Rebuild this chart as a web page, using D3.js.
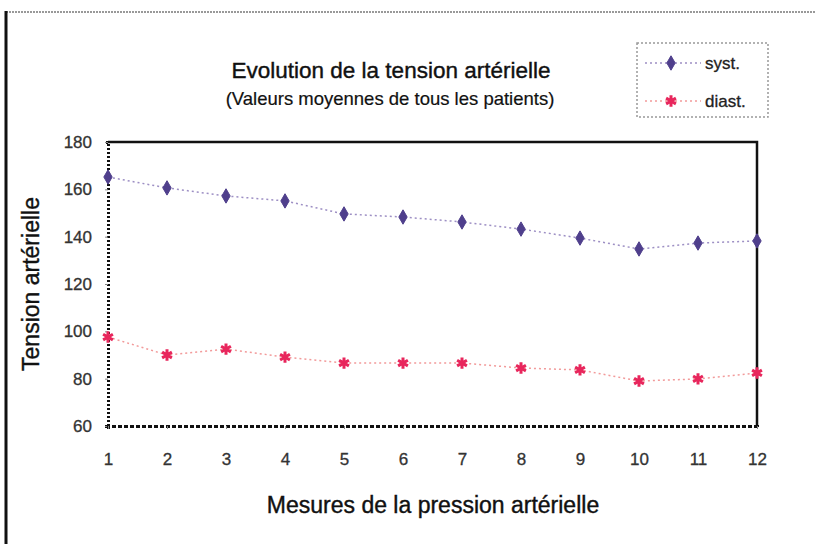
<!DOCTYPE html>
<html>
<head>
<meta charset="utf-8">
<script src="https://cdn.jsdelivr.net/npm/d3@7"></script>
<style>
  body { margin: 0; background: #fff; }
  svg { display: block; }
</style>
</head>
<body>
<div class="chart-container"></div>
<script>
// Données
const mesures = [1, 2, 3, 4, 5, 6, 7, 8, 9, 10, 11, 12];
const syst = [165.2, 160.6, 157.2, 155.1, 149.6, 148.3, 146.2, 143.2, 139.4, 134.8, 137.3, 138.2];
const diast = [97.6, 90, 92.5, 89.1, 86.6, 86.6, 86.6, 84.5, 83.7, 79, 79.9, 82.4];
const yTicks = [60, 80, 100, 120, 140, 160, 180];

const width = 815;
const height = 544;
const margin = { top: 142, right: 58, bottom: 118, left: 108 };

const svg = d3.select('.chart-container')
  .append('svg')
  .attr('width', width)
  .attr('height', height)
  .attr('font-family', '"Liberation Sans", Arial, sans-serif');

// cadre extérieur
svg.append('line')
  .attr('x1', 6).attr('x2', width).attr('y1', 12).attr('y2', 12)
  .attr('stroke', '#999').attr('stroke-width', 2).attr('stroke-dasharray', '2,1');
svg.append('line')
  .attr('x1', 6).attr('x2', 6).attr('y1', 11).attr('y2', height)
  .attr('stroke', '#111').attr('stroke-width', 3);

const x = d3.scaleLinear()
  .domain([1, 12])
  .range([margin.left, width - margin.right]);

const y = d3.scaleLinear()
  .domain([60, 180])
  .range([height - margin.bottom, margin.top]);

// bord haut et droit
svg.append('path')
  .attr('d', `M${x(1)},${y(180)}H${x(12)}V${y(60)}`)
  .attr('fill', 'none').attr('stroke', '#111').attr('stroke-width', 2.5);

// axe Y
const yAxis = svg.append('g')
  .attr('transform', `translate(${x(1)},0)`)
  .call(d3.axisLeft(y).tickValues(yTicks).tickSize(3).tickPadding(13));
yAxis.select('.domain')
  .attr('stroke', '#111').attr('stroke-width', 3).attr('stroke-dasharray', '2,2');
yAxis.selectAll('.tick line').attr('stroke', '#888');
yAxis.selectAll('.tick text')
  .attr('font-size', '17px').attr('fill', '#333')
  .attr('stroke', '#333').attr('stroke-width', 0.3);

// axe X
const xAxis = svg.append('g')
  .attr('transform', `translate(0,${y(60)})`)
  .call(d3.axisBottom(x).tickValues(mesures).tickSize(3).tickPadding(24).tickFormat(d3.format('d')));
xAxis.select('.domain')
  .attr('stroke', '#111').attr('stroke-width', 3).attr('stroke-dasharray', '4,2');
xAxis.selectAll('.tick line').attr('stroke', '#888');
xAxis.selectAll('.tick text')
  .attr('font-size', '17px').attr('fill', '#333')
  .attr('stroke', '#333').attr('stroke-width', 0.3);

// séries
const series = [
  { name: 'syst.', values: syst, line: '#9d8fc4', mark: '#4f3f8c', symbol: d3.symbolDiamond, size: 60, sw: 1 },
  { name: 'diast.', values: diast, line: '#f29a9a', mark: '#e8265c', symbol: d3.symbolAsterisk, size: 90, sw: 3 }
];

const line = d3.line()
  .x((d, i) => x(mesures[i]))
  .y(d => y(d));

series.forEach(s => {
  svg.append('path')
    .datum(s.values)
    .attr('fill', 'none')
    .attr('stroke', s.line)
    .attr('stroke-width', 1.5)
    .attr('stroke-dasharray', '2,3')
    .attr('d', line);

  svg.append('g')
    .selectAll('path')
    .data(s.values)
    .join('path')
      .attr('transform', (d, i) => `translate(${x(mesures[i])},${y(d)})`)
      .attr('d', d3.symbol(s.symbol, s.size))
      .attr('fill', s.mark)
      .attr('stroke', s.mark)
      .attr('stroke-width', s.sw);
});

// titres
const titleStyle = sel => sel
  .attr('text-anchor', 'middle')
  .attr('fill', '#111')
  .attr('stroke', '#111')
  .attr('stroke-width', 0.4);

svg.append('text')
  .attr('x', 391).attr('y', 78)
  .attr('font-size', '22.5px')
  .call(titleStyle)
  .text('Evolution de la tension artérielle');

svg.append('text')
  .attr('x', 390).attr('y', 105)
  .attr('font-size', '18.5px')
  .call(titleStyle)
  .attr('stroke-width', 0.2)
  .text('(Valeurs moyennes de tous les patients)');

svg.append('text')
  .attr('x', 433).attr('y', 513)
  .attr('font-size', '23px')
  .call(titleStyle)
  .text('Mesures de la pression artérielle');

svg.append('text')
  .attr('transform', `translate(39,${(y(60) + y(180)) / 2}) rotate(-90)`)
  .attr('font-size', '23px')
  .call(titleStyle)
  .text('Tension artérielle');

// légende
const legend = svg.append('g').attr('transform', 'translate(637,43)');
legend.append('rect')
  .attr('width', 131).attr('height', 74)
  .attr('fill', 'none').attr('stroke', '#999')
  .attr('stroke-width', 1.5).attr('stroke-dasharray', '2,2');

series.forEach((s, i) => {
  const g = legend.append('g').attr('transform', `translate(0,${20 + i * 38})`);
  g.append('line')
    .attr('x1', 8).attr('x2', 64)
    .attr('stroke', s.line).attr('stroke-width', 1.5).attr('stroke-dasharray', '2,3');
  g.append('path')
    .attr('transform', 'translate(34,0)')
    .attr('d', d3.symbol(s.symbol, s.size))
    .attr('fill', s.mark).attr('stroke', s.mark)
    .attr('stroke-width', s.sw);
  g.append('text')
    .attr('x', 68).attr('y', 6)
    .attr('font-size', '17px').attr('fill', '#222')
    .attr('stroke', '#222').attr('stroke-width', 0.3)
    .text(s.name);
});
</script>
</body>
</html>
